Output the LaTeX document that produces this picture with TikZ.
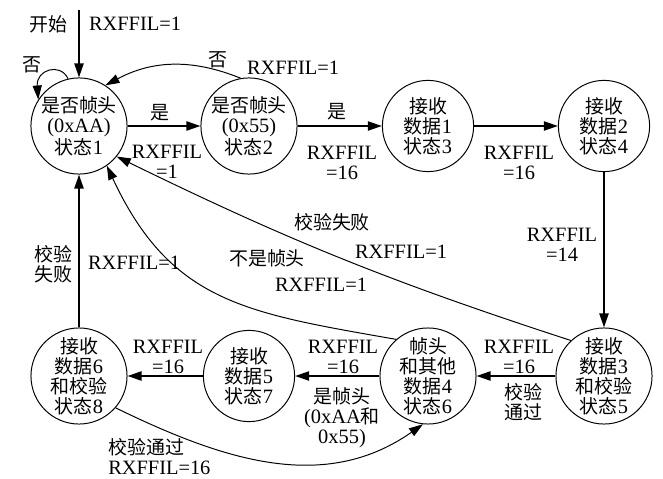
\documentclass[tikz,border=0pt]{standalone}
\usepackage{fontspec}
\setmainfont{Liberation Serif}
\newfontfamily\cjk[Scale=0.93]{Noto Sans CJK SC}
\usetikzlibrary{arrows.meta}
\newcommand{\zh}[1]{{\cjk #1}}
\tikzstyle{state}=[draw, circle, line width=0.7pt, minimum size=2.28cm, inner sep=0pt,
    align=center, font=\fontsize{14.5}{14.2}\selectfont]
\tikzstyle{edge} = [draw, line width=1.4pt, -{Triangle[length=10pt,width=6.5pt]}]
\tikzstyle{bent} = [draw, line width=0.7pt, -{Triangle[length=10pt,width=6.5pt]}]
\tikzstyle{weight} = [font=\fontsize{14.5}{14.2}\selectfont, align=center, inner sep=0pt]

\begin{document}
\begin{tikzpicture}[x=0.025cm, y=-0.025cm]
  \useasboundingbox (0,0) rectangle (663,479);

  \foreach \name/\x/\y/\txt in {
      s1/79/126/{\zh{是否帧头}\\(0xAA)\\\zh{状态}1},
      s2/249/126/{\zh{是否帧头}\\(0x55)\\\zh{状态}2},
      s3/428/126/{\zh{接收}\\\zh{数据}1\\\zh{状态}3},
      s4/604/126/{\zh{接收}\\\zh{数据}2\\\zh{状态}4},
      s5/604/376/{\zh{接收}\\\zh{数据}3\\\zh{和校验}\\\zh{状态}5},
      s6/428/376/{\zh{帧头}\\\zh{和其他}\\\zh{数据}4\\\zh{状态}6},
      s7/249/376/{\zh{接收}\\\zh{数据}5\\\zh{状态}7},
      s8/79/376/{\zh{接收}\\\zh{数据}6\\\zh{和校验}\\\zh{状态}8}}
        \node[state] (\name) at (\x,\y) {\txt};

  \coordinate (start) at (79,10);
  \path[edge] (start) -- (s1);
  \foreach \a/\b in {s1/s2, s2/s3, s3/s4, s4/s5, s5/s6, s6/s7, s7/s8, s8/s1}
      \path[edge] (\a) -- (\b);

  % curved transitions
  \path[bent] (s1.103) .. controls (60,62) and (36,70) .. (s1.147);
  \path[bent] (s2.100) to[bend right=25] (s1.57);
  \path[bent] (s5.133) to[bend left=4] (s1.-39);
  \path[bent] (s6.131) to[out=170, in=-65, looseness=1.15] (s1.-55);
  \path[bent] (s8.-41) to[out=-26, in=-145] (s6.-96);

  % labels
  \node[weight] (l_start) at (48,24) {\zh{开始}};
  \node[weight] (l_startv) at (135,24) {RXFFIL=1};
  \node[weight] (l_loop) at (32,65) {\zh{否}};
  \node[weight] (l_back) at (218,60) {\zh{否}};
  \node[weight] (l_backv) at (293,68) {RXFFIL=1};
  \node[weight] (l_12) at (160,113) {\zh{是}};
  \node[weight] (l_12v) at (167,162) {RXFFIL\\=1};
  \node[weight] (l_23) at (337,112) {\zh{是}};
  \node[weight] (l_23v) at (342,163) {RXFFIL\\=16};
  \node[weight] (l_34v) at (519,163) {RXFFIL\\=16};
  \node[weight] (l_45v) at (562,245) {RXFFIL\\=14};
  \node[weight] (l_51) at (332,222) {\zh{校验失败}};
  \node[weight] (l_51v) at (401,252) {RXFFIL=1};
  \node[weight] (l_61) at (267,258) {\zh{不是帧头}};
  \node[weight] (l_61v) at (321,285) {RXFFIL=1};
  \node[weight] (l_81) at (53,264) {\zh{校验}\\\zh{失败}};
  \node[weight] (l_81v) at (134,263) {RXFFIL=1};
  \node[weight] (l_78v) at (168,357) {RXFFIL\\=16};
  \node[weight] (l_67v) at (343,357) {RXFFIL\\=16};
  \node[weight] (l_67) at (342,418) {\zh{是帧头}\\(0xAA\zh{和}\\0x55)};
  \node[weight] (l_56v) at (519,357) {RXFFIL\\=16};
  \node[weight] (l_56) at (523,402) {\zh{校验}\\\zh{通过}};
  \node[weight, align=left, anchor=west] (l_86) at (108,457) {\zh{校验通过}\\RXFFIL=16};

\end{tikzpicture}
\end{document}
